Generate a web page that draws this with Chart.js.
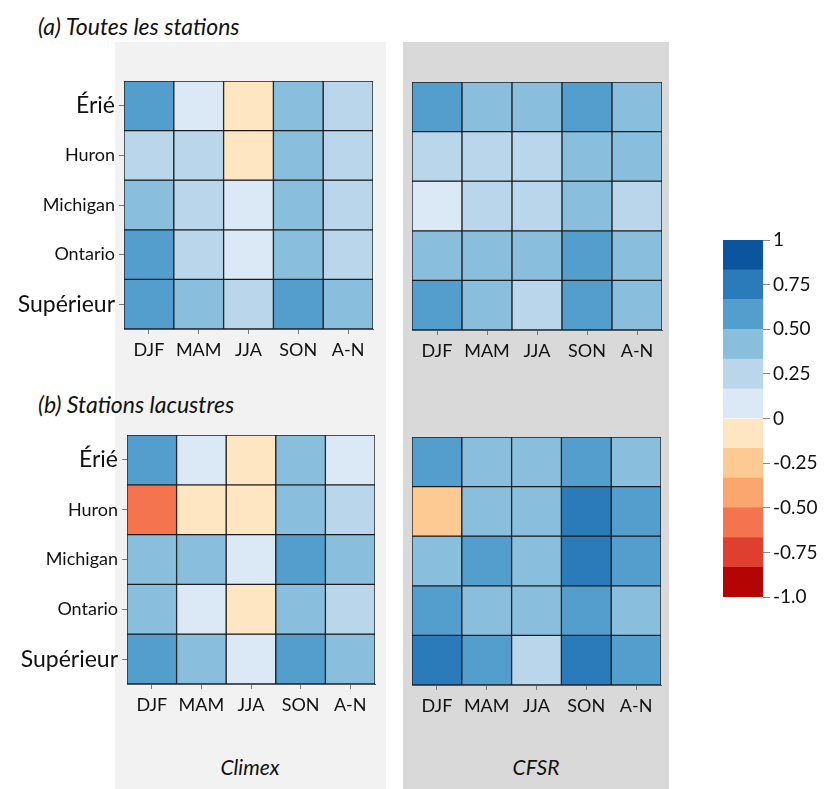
<!DOCTYPE html>
<html lang="fr">
<head>
    <meta charset="UTF-8">
    <title>Corrélations saisonnières</title>
    <style>
        body {
            margin: 0;
            background: #fff;
            font-family: Lato, "Open Sans", sans-serif;
        }
        .page {
            position: relative;
            width: 827px;
            height: 789px;
            overflow: hidden;
        }
        .panel {
            position: absolute;
            top: 42px;
            height: 747px;
        }
        .title {
            position: absolute;
            left: 38px;
            font-size: 23px;
            font-style: italic;
            color: #111;
            white-space: nowrap;
        }
        .source {
            position: absolute;
            top: 754px;
            font-size: 21px;
            font-style: italic;
            color: #111;
            text-align: center;
            width: 200px;
        }
        canvas {
            position: absolute;
        }
    </style>
</head>
<body>
<div class="page">
    <div class="panel" style="left:115px; width:271px; background:#f2f2f2;"></div>
    <div class="panel" style="left:403px; width:266px; background:#d9d9d9;"></div>

    <div class="title" style="top:12px;">(a) Toutes les stations</div>
    <div class="title" style="top:390px;">(b) Stations lacustres</div>

    <canvas id="a-climex" width="385" height="310" style="left:0; top:60px;"></canvas>
    <canvas id="a-cfsr" width="268" height="310" style="left:400px; top:60px;"></canvas>
    <canvas id="b-climex" width="385" height="310" style="left:0; top:415px;"></canvas>
    <canvas id="b-cfsr" width="268" height="310" style="left:400px; top:415px;"></canvas>
    <canvas id="colorbar" width="127" height="390" style="left:700px; top:225px;"></canvas>

    <div class="source" style="left:150px;">Climex</div>
    <div class="source" style="left:436px;">CFSR</div>
</div>

<script src="https://cdn.jsdelivr.net/npm/chart.js@4.4.1/dist/chart.umd.min.js"></script>
<script>
    const seasons = ["DJF", "MAM", "JJA", "SON", "A-N"];
    const lakes = ["Érié", "Huron", "Michigan", "Ontario", "Supérieur"];

    // (a) toutes les stations
    const climexAll = [
        [0.58, 0.08, -0.05, 0.42, 0.27],
        [0.28, 0.30, -0.07, 0.44, 0.29],
        [0.40, 0.29, 0.11, 0.43, 0.30],
        [0.57, 0.28, 0.09, 0.42, 0.30],
        [0.60, 0.41, 0.26, 0.62, 0.41]
    ];
    const cfsrAll = [
        [0.59, 0.43, 0.41, 0.60, 0.42],
        [0.30, 0.29, 0.27, 0.43, 0.44],
        [0.12, 0.29, 0.30, 0.41, 0.31],
        [0.44, 0.42, 0.41, 0.61, 0.42],
        [0.60, 0.42, 0.28, 0.59, 0.43]
    ];

    // (b) stations lacustres
    const climexLake = [
        [0.58, 0.10, -0.04, 0.43, 0.12],
        [-0.55, -0.09, -0.06, 0.41, 0.29],
        [0.42, 0.44, 0.10, 0.61, 0.43],
        [0.42, 0.09, -0.05, 0.42, 0.28],
        [0.59, 0.43, 0.11, 0.60, 0.42]
    ];
    const cfsrLake = [
        [0.58, 0.42, 0.43, 0.59, 0.41],
        [-0.22, 0.42, 0.43, 0.74, 0.58],
        [0.41, 0.57, 0.43, 0.75, 0.58],
        [0.58, 0.42, 0.43, 0.59, 0.40],
        [0.72, 0.58, 0.27, 0.73, 0.57]
    ];

    // colour scale: 12 bins from -1 to 1
    const binEdges = [-1, -5/6, -4/6, -3/6, -2/6, -1/6, 0, 1/6, 2/6, 3/6, 4/6, 5/6, 1];
    const binColors = ["#b40404", "#de3f2e", "#f4744f", "#fba56f", "#fdca94", "#fee6c3",
                       "#dbe9f6", "#bad6eb", "#89bedc", "#539ecd", "#2b7bba", "#0b559f"];
    const cbarTicks = [1, 0.75, 0.5, 0.25, 0, -0.25, -0.5, -0.75, -1];
    const cbarLabels = ["1", "0.75", "0.50", "0.25", "0", "-0.25", "-0.50", "-0.75", "-1.0"];

    const FONT = "Lato, 'Open Sans', sans-serif";
    Chart.defaults.font.family = FONT;
    Chart.defaults.color = "#111";
    Chart.defaults.animation = false;

    function colorFor(v) {
        let i = Math.floor((v + 1) * 6);
        if (i < 0) i = 0;
        if (i > 11) i = 11;
        return binColors[i];
    }

    function heatmap(id, values, opts) {
        const n = lakes.length;
        const datasets = values.map((row, r) => ({
            data: row.map(() => [n - 1 - r, n - r]),
            backgroundColor: row.map(colorFor),
            borderColor: "#1c1c1c",
            borderWidth: 1,
            borderSkipped: false,
            grouped: false,
            barPercentage: 1,
            categoryPercentage: 1
        }));

        new Chart(document.getElementById(id), {
            type: "bar",
            data: { labels: seasons, datasets: datasets },
            options: {
                responsive: false,
                devicePixelRatio: 1,
                layout: { padding: { top: opts.top, right: opts.right, left: 0, bottom: 0 } },
                plugins: { legend: { display: false }, tooltip: { enabled: false } },
                scales: {
                    x: {
                        grid: { offset: false, drawOnChartArea: false, tickLength: 5, color: "#777" },
                        border: { color: "#555" },
                        ticks: { font: { size: 18 }, padding: 5, maxRotation: 0, autoSkip: false },
                        afterFit: s => { s.height = opts.xh; }
                    },
                    y: {
                        min: 0,
                        max: n,
                        grid: { drawOnChartArea: false, tickLength: 5, color: "#777", display: opts.labels },
                        border: { color: "#555" },
                        ticks: {
                            display: opts.labels,
                            autoSkip: false,
                            padding: 4,
                            callback: v => lakes[Math.round(n - 0.5 - v)],
                            font: ctx => {
                                const name = ctx.tick ? lakes[Math.round(n - 0.5 - ctx.tick.value)] : "";
                                return { size: (name === "Érié" || name === "Supérieur") ? 23 : 18 };
                            }
                        },
                        afterBuildTicks: s => { s.ticks = lakes.map((_, i) => ({ value: i + 0.5 })); },
                        afterFit: s => { s.width = opts.yw; }
                    }
                }
            }
        });
    }

    heatmap("a-climex", climexAll, { top: 21, right: 12, xh: 41, yw: 124, labels: true });
    heatmap("a-cfsr", cfsrAll, { top: 22, right: 6, xh: 40, yw: 12, labels: false });
    heatmap("b-climex", climexLake, { top: 20, right: 10, xh: 41, yw: 127, labels: true });
    heatmap("b-cfsr", cfsrLake, { top: 22, right: 7, xh: 40, yw: 12, labels: false });

    // colour bar
    new Chart(document.getElementById("colorbar"), {
        type: "bar",
        data: {
            labels: [""],
            datasets: binColors.map((c, i) => ({
                data: [[binEdges[i], binEdges[i + 1]]],
                backgroundColor: c,
                borderWidth: 0,
                grouped: false,
                barPercentage: 1,
                categoryPercentage: 1
            }))
        },
        options: {
            responsive: false,
            devicePixelRatio: 1,
            layout: { padding: { top: 15, bottom: 18, left: 23, right: 0 } },
            plugins: { legend: { display: false }, tooltip: { enabled: false } },
            scales: {
                x: { display: false },
                y: {
                    position: "right",
                    min: -1,
                    max: 1,
                    grid: { drawOnChartArea: false, tickLength: 7, color: "#888" },
                    border: { display: false },
                    ticks: {
                        autoSkip: false,
                        padding: 3,
                        font: { size: 19 },
                        callback: v => {
                            const k = cbarTicks.findIndex(t => Math.abs(t - v) < 1e-6);
                            return k >= 0 ? cbarLabels[k] : "";
                        }
                    },
                    afterBuildTicks: s => { s.ticks = cbarTicks.map(v => ({ value: v })); },
                    afterFit: s => { s.width = 64; }
                }
            }
        }
    });
</script>
</body>
</html>
